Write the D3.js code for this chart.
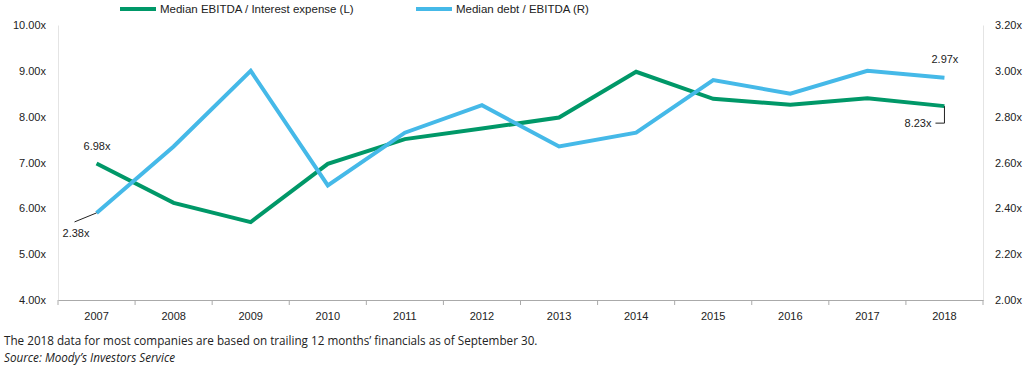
<!DOCTYPE html>
<html>
<head>
<meta charset="utf-8">
<script src="https://cdn.jsdelivr.net/npm/d3@7"></script>
<style>
    body { margin: 0; background: #fff; }
    svg text { font-family: "Liberation Sans", Arial, sans-serif; fill: #222; }
    .note { font-family: "Open Sans", "Noto Sans", sans-serif; font-size: 11.7px; }
</style>
</head>
<body>
<div id="chart"></div>
<script>
const years = ['2007', '2008', '2009', '2010', '2011', '2012', '2013', '2014', '2015', '2016', '2017', '2018'];
const ebitdaInterest = [6.98, 6.12, 5.70, 6.97, 7.51, 7.74, 7.98, 8.98, 8.39, 8.26, 8.40, 8.23];
const debtEbitda = [2.38, 2.67, 3.00, 2.50, 2.73, 2.85, 2.67, 2.73, 2.96, 2.90, 3.00, 2.97];
const leftTicks = [4, 5, 6, 7, 8, 9, 10];
const rightTicks = [2.0, 2.2, 2.4, 2.6, 2.8, 3.0, 3.2];

const width = 1024, height = 376;
const margin = { top: 25, right: 41, bottom: 76, left: 58 };
const green = '#009868', blue = '#45b9e8';

const svg = d3.select('#chart').append('svg')
    .attr('width', width)
    .attr('height', height);

const xScale = d3.scaleBand()
    .domain(years)
    .range([margin.left, width - margin.right]);

const yLeft = d3.scaleLinear()
    .domain([4, 10])
    .range([height - margin.bottom, margin.top]);

const yRight = d3.scaleLinear()
    .domain([2, 3.2])
    .range([height - margin.bottom, margin.top]);

const xMid = d => xScale(d) + xScale.bandwidth() / 2;

// axes
const leftAxis = svg.append('g')
    .attr('transform', `translate(${margin.left},0)`)
    .call(d3.axisLeft(yLeft).tickValues(leftTicks).tickSize(0).tickPadding(12)
        .tickFormat(d => d3.format('.2f')(d) + 'x'));
leftAxis.select('.domain').attr('stroke', '#e4e4e4');
leftAxis.selectAll('text').style('font-size', '11px');

const rightAxis = svg.append('g')
    .attr('transform', `translate(${width - margin.right},0)`)
    .call(d3.axisRight(yRight).tickValues(rightTicks).tickSize(0).tickPadding(12)
        .tickFormat(d => d3.format('.2f')(d) + 'x'));
rightAxis.select('.domain').attr('stroke', '#e4e4e4');
rightAxis.selectAll('text').style('font-size', '11px');

const xAxisEl = svg.append('g')
    .attr('transform', `translate(0,${height - margin.bottom})`)
    .call(d3.axisBottom(xScale).tickSize(0).tickPadding(12));
xAxisEl.select('.domain').attr('stroke', '#aaa');
xAxisEl.selectAll('text').style('font-size', '11px');

// tick marks between categories
svg.append('g')
    .selectAll('line')
    .data(years.concat(['end']))
    .enter()
    .append('line')
    .attr('x1', (d, i) => i < years.length ? xScale(d) : width - margin.right)
    .attr('x2', (d, i) => i < years.length ? xScale(d) : width - margin.right)
    .attr('y1', height - margin.bottom)
    .attr('y2', height - margin.bottom + 5)
    .attr('stroke', '#aaa');

// lines
const greenLine = d3.line()
    .x((d, i) => xMid(years[i]))
    .y(d => yLeft(d));

const blueLine = d3.line()
    .x((d, i) => xMid(years[i]))
    .y(d => yRight(d));

svg.append('path')
    .datum(ebitdaInterest)
    .attr('d', greenLine)
    .attr('fill', 'none')
    .attr('stroke', green)
    .attr('stroke-width', 4);

svg.append('path')
    .datum(debtEbitda)
    .attr('d', blueLine)
    .attr('fill', 'none')
    .attr('stroke', blue)
    .attr('stroke-width', 4);

// annotations
const first = years[0], last = years[years.length - 1];
svg.append('text')
    .attr('x', xMid(first) - 13)
    .attr('y', yLeft(ebitdaInterest[0]) - 13)
    .style('font-size', '11px')
    .text(d3.format('.2f')(ebitdaInterest[0]) + 'x');

svg.append('line')
    .attr('x1', xMid(first))
    .attr('y1', yRight(debtEbitda[0]))
    .attr('x2', xMid(first) - 22)
    .attr('y2', yRight(debtEbitda[0]) + 9)
    .attr('stroke', '#222');
svg.append('text')
    .attr('x', xMid(first) - 34)
    .attr('y', yRight(debtEbitda[0]) + 24)
    .style('font-size', '11px')
    .text(d3.format('.2f')(debtEbitda[0]) + 'x');

svg.append('text')
    .attr('x', xMid(last) - 13)
    .attr('y', yRight(debtEbitda[11]) - 15)
    .style('font-size', '11px')
    .text(d3.format('.2f')(debtEbitda[11]) + 'x');

svg.append('path')
    .attr('d', `M${xMid(last)},${yLeft(ebitdaInterest[11])} V${yLeft(ebitdaInterest[11]) + 17} H${xMid(last) - 9}`)
    .attr('fill', 'none')
    .attr('stroke', '#222');
svg.append('text')
    .attr('x', xMid(last) - 13)
    .attr('y', yLeft(ebitdaInterest[11]) + 21)
    .attr('text-anchor', 'end')
    .style('font-size', '11px')
    .text(d3.format('.2f')(ebitdaInterest[11]) + 'x');

// legend
const legend = [
    { label: 'Median EBITDA / Interest expense (L)', color: green, x: 120 },
    { label: 'Median debt / EBITDA (R)', color: blue, x: 416 }
];
const legendEl = svg.append('g')
    .selectAll('g')
    .data(legend)
    .enter()
    .append('g')
    .attr('transform', d => `translate(${d.x},9)`);
legendEl.append('line')
    .attr('x1', 0).attr('x2', 36)
    .attr('stroke', d => d.color)
    .attr('stroke-width', 4);
legendEl.append('text')
    .attr('x', 40)
    .attr('dy', '0.35em')
    .style('font-size', '11.5px')
    .text(d => d.label);

// footnotes
svg.append('text')
    .attr('class', 'note')
    .attr('x', 4)
    .attr('y', 345)
    .text('The 2018 data for most companies are based on trailing 12 months\u2019 financials as of September 30.');
svg.append('text')
    .attr('class', 'note')
    .attr('x', 4)
    .attr('y', 362)
    .style('font-style', 'italic')
    .text('Source: Moody\u2019s Investors Service');
</script>
</body>
</html>
